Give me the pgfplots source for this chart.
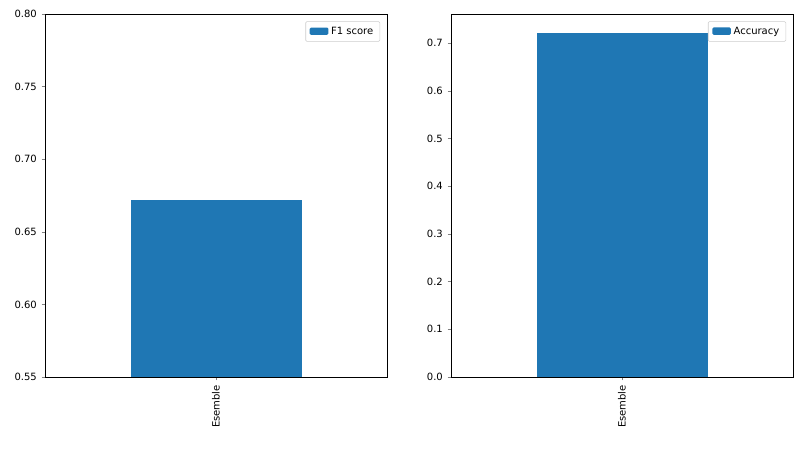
\documentclass[border=0pt]{standalone}
\usepackage{pgfplots}
\pgfplotsset{compat=1.18}
\usepackage{fontspec}
\setmainfont{DejaVu Sans}
\definecolor{mblue}{HTML}{1F77B4}
\begin{document}
\begin{tikzpicture}
\path (0pt,0pt) rectangle (601.5pt,339.75pt);
\pgfplotsset{every axis/.style={
  scale only axis, width=256.5pt, height=272.25pt,
  xmin=-0.5, xmax=0.5, xtick={0}, xticklabels={Esemble},
  xticklabel style={rotate=90, anchor=east},
  xtick pos=bottom, ytick pos=left,
  tick label style={font=\fontsize{7.5}{9}\selectfont},
  /pgf/number format/assume math mode=true,
  tick align=outside, major tick length=2.6pt,
  legend style={font=\fontsize{7.5}{9}\selectfont, at={(0.98,0.98)}, anchor=north east, draw=black!20, rounded corners=1pt},
  legend image code/.code={\fill[mblue] (0pt,-2.5pt) rectangle (14pt,3pt);},
  axis line style={line width=0.6pt},
}}
\begin{axis}[at={(33.75pt,57pt)}, anchor=south west, ymin=0.55, ymax=0.80,
  ytick={0.55,0.60,...,0.80},
  yticklabel style={/pgf/number format/.cd, fixed, fixed zerofill, precision=2}]
\addplot[ybar, bar width=128.25pt, fill=mblue, draw=none, bar shift=0pt] coordinates {(0,0.672)};
\legend{F1 score}
\end{axis}
\begin{axis}[at={(338.25pt,57pt)}, anchor=south west, ymin=0, ymax=0.761,
  ytick={0,0.1,...,0.7},
  yticklabel style={/pgf/number format/.cd, fixed, fixed zerofill, precision=1}]
\addplot[ybar, bar width=128.25pt, fill=mblue, draw=none, bar shift=0pt] coordinates {(0,0.722)};
\legend{Accuracy}
\end{axis}
\end{tikzpicture}
\end{document}
